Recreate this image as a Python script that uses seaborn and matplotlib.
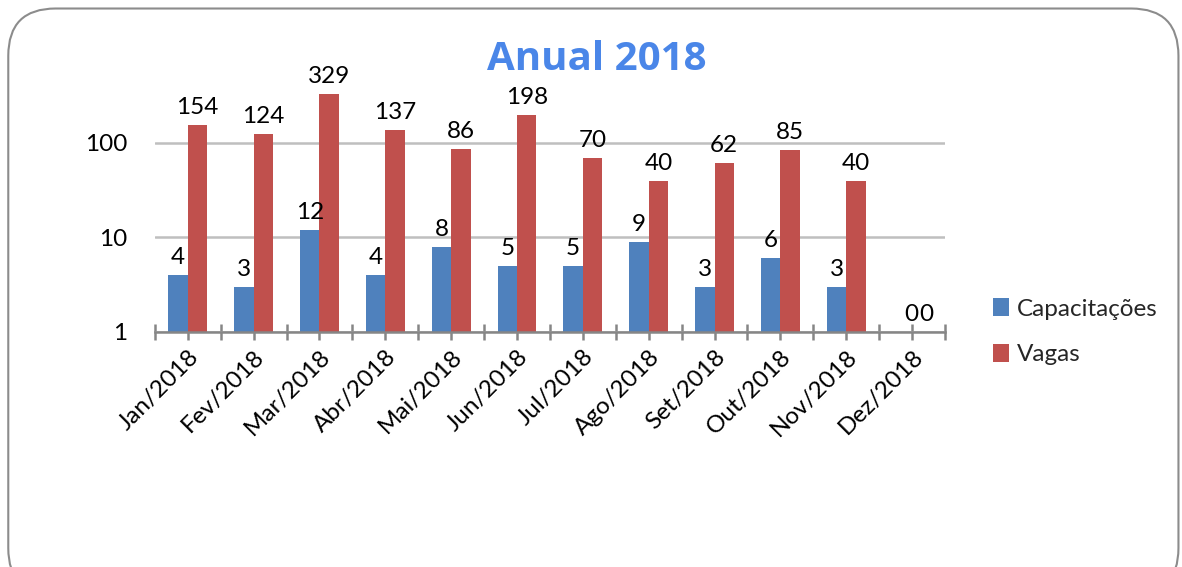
import matplotlib
matplotlib.use("Agg")
import matplotlib.pyplot as plt
import seaborn as sns
import pandas as pd
from matplotlib.patches import FancyBboxPatch, Patch

months = ["Jan/2018", "Fev/2018", "Mar/2018", "Abr/2018", "Mai/2018", "Jun/2018",
          "Jul/2018", "Ago/2018", "Set/2018", "Out/2018", "Nov/2018", "Dez/2018"]
capacitacoes = [4, 3, 12, 4, 8, 5, 5, 9, 3, 6, 3, 0]
vagas = [154, 124, 329, 137, 86, 198, 70, 40, 62, 85, 40, 0]
series_names = ["Capacitações", "Vagas"]
colors = ["#4F81BD", "#C0504D"]

df = pd.DataFrame({
    "Mês": months * 2,
    "Valor": capacitacoes + vagas,
    "Série": [series_names[0]] * len(months) + [series_names[1]] * len(months),
})

sns.set_theme(style="white")
plt.rcParams["font.family"] = ["Lato", "DejaVu Sans"]
FS = 17.5

fig = plt.figure(figsize=(11.82, 5.67), dpi=100)
ax = fig.add_axes([0.131, 0.4145, 0.6685, 0.50])

sns.barplot(data=df, x="Mês", y="Valor", hue="Série", palette=colors,
            width=0.59, ax=ax, legend=False, saturation=1, linewidth=0)
ax.set_yscale("log")
ax.set_ylim(1, 1000)
ax.set_xlim(-0.5, len(months) - 0.5)
ax.set_yticks([1, 10, 100])
ax.set_yticklabels(["1", "10", "100"])
ax.minorticks_off()
ax.yaxis.grid(True, color="#BFBFBF", linewidth=1.8)
ax.set_axisbelow(True)
ax.set_xlabel("")
ax.set_ylabel("")
for s in ["top", "right", "left"]:
    ax.spines[s].set_visible(False)
ax.spines["bottom"].set_color("#868686")
ax.spines["bottom"].set_linewidth(1.8)
ax.tick_params(axis="y", length=0, labelsize=FS, pad=20, labelcolor="black")
ax.set_xticks(range(len(months)))
ax.set_xticklabels(months, rotation=45, ha="right", rotation_mode="anchor")
ax.tick_params(axis="x", which="major", bottom=True, direction="inout", length=12,
               width=1.8, color="#868686", labelsize=FS, pad=4, labelcolor="black")
ax.set_xticks([i - 0.5 for i in range(len(months) + 1)], minor=True)
ax.tick_params(axis="x", which="minor", bottom=True, direction="inout", length=12,
               width=1.8, color="#868686")

# data labels
for k, (container, vals) in enumerate(zip(ax.containers, [capacitacoes, vagas])):
    for bar, v in zip(container, vals):
        xc = bar.get_x() + bar.get_width() / 2
        dx = 0
        if v == 0:
            dx = 6.5 if k == 0 else 3
        ax.annotate(str(v), (xc, max(v, 1)), xytext=(dx, 5), textcoords="offset points",
                    ha="center", va="bottom", fontsize=FS, color="black")

fig.text(0.505, 0.895, "Anual 2018", ha="center", va="center", fontsize=29,
         fontweight="bold", color="#4A86E8", family=["Open Sans", "DejaVu Sans"])

handles = [Patch(facecolor=c, edgecolor="none") for c in colors]
fig.legend(handles, series_names, loc="center left", bbox_to_anchor=(0.822, 0.415),
           frameon=False, fontsize=FS, handlelength=0.65, handleheight=0.75,
           handletextpad=0.3, labelspacing=1.0)

border = FancyBboxPatch((0.007, -0.05), 0.99, 1.035, transform=fig.transFigure,
                        boxstyle="round,pad=0,rounding_size=0.04", facecolor="none",
                        edgecolor="#8C8C8C", linewidth=1.5, mutation_aspect=1182/567)
fig.patches.append(border)

fig.savefig("out.png", dpi=100)
